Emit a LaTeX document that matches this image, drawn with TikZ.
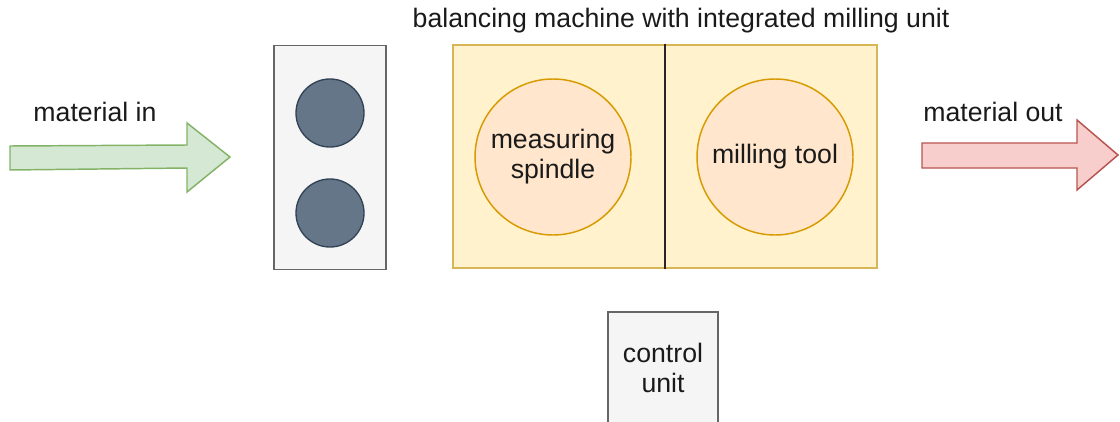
\documentclass[tikz,border=0pt]{standalone}
\usepackage{fontspec}
\setmainfont{Liberation Sans}
\definecolor{grayfill}{HTML}{F5F5F5}
\definecolor{graystroke}{HTML}{666666}
\definecolor{slatefill}{HTML}{647687}
\definecolor{slatestroke}{HTML}{314354}
\definecolor{yellowfill}{HTML}{FFF2CC}
\definecolor{yellowstroke}{HTML}{D6B656}
\definecolor{orangefill}{HTML}{FFE6CC}
\definecolor{orangestroke}{HTML}{D79B00}
\definecolor{greenfill}{HTML}{D5E8D4}
\definecolor{greenstroke}{HTML}{82B366}
\definecolor{redfill}{HTML}{F8CECC}
\definecolor{redstroke}{HTML}{B85450}
\definecolor{textcol}{HTML}{1A1A1A}
\begin{document}
\begin{tikzpicture}[x=0.75pt,y=-0.75pt,
  lbl/.style={text=textcol,font=\fontsize{20}{22.5}\selectfont,inner sep=0pt,align=center},
  roller/.style={circle,draw=slatestroke,fill=slatefill,line width=1pt,minimum size=51pt,inner sep=0pt},
  tool/.style={circle,draw=orangestroke,fill=orangefill,line width=1.1pt,minimum size=117pt,inner sep=0pt,lbl},
  blockarrow/.style={line width=1.1pt,line join=miter}]
\useasboundingbox (0,0) rectangle (1120,421);

% infeed arrow
\draw[blockarrow,draw=greenstroke,fill=greenfill]
  (10,146) -- (187,145) -- (187,123) -- (230,157) -- (187,192) -- (187,168) -- (10,170) -- cycle;
\node[lbl] (inlbl) at (95,112) {material in};

% roller stand
\node[draw=graystroke,fill=grayfill,line width=1.4pt,minimum width=84pt,minimum height=168pt,inner sep=0pt] (stand) at (330,157.5) {};
\node[roller] (r1) at (330,113) {};
\node[roller] (r2) at (330,213) {};

% balancing machine
\node[lbl] (title) at (681,21) {balancing machine with integrated milling unit};
\node[draw=yellowstroke,fill=yellowfill,line width=1.2pt,minimum width=318pt,minimum height=167pt,inner sep=0pt] (machine) at (665,156.5) {};
\draw[line width=1.4pt,draw=black!85] (machine.north) -- (machine.south);
\node[tool] (spindle) at (553,157) {measuring\\spindle};
\node[tool] (mill) at (775,157) {milling tool};

% control unit
\node[draw=graystroke,fill=grayfill,line width=1.4pt,minimum width=82pt,minimum height=84pt,inner sep=0pt,lbl] (ctrl) at (663,368) {control\\unit};

% outfeed arrow
\draw[blockarrow,draw=redstroke,fill=redfill]
  (922,143) -- (1077,143) -- (1077,120) -- (1118,155) -- (1077,190) -- (1077,168) -- (922,168) -- cycle;
\node[lbl] (outlbl) at (993,112) {material out};
\end{tikzpicture}
\end{document}
